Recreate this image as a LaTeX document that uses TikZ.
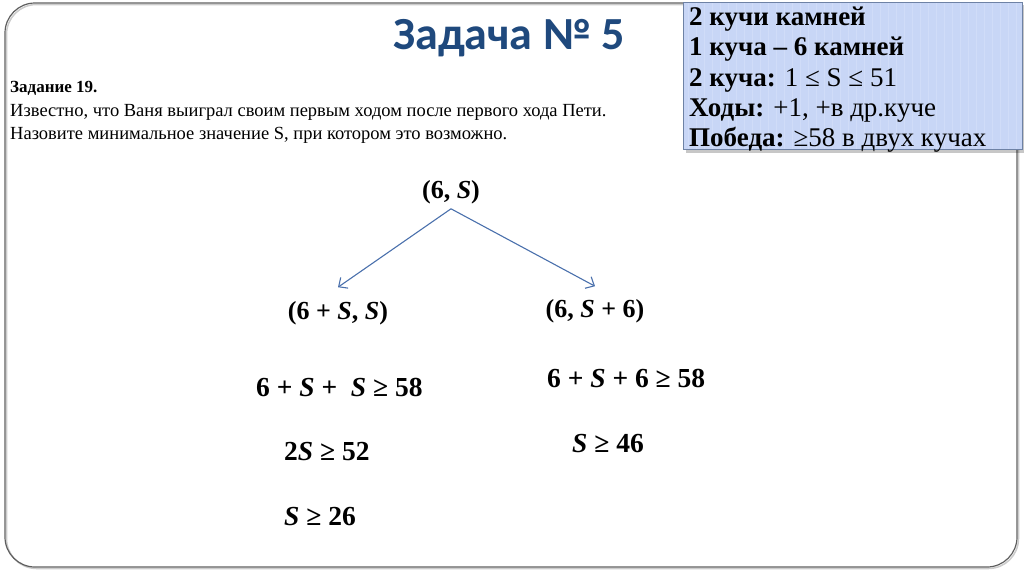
\documentclass[tikz,border=0pt]{standalone}
\usepackage{fontspec}
\setmainfont{Liberation Serif}
\newfontfamily\titlefont{Carlito}
\usetikzlibrary{arrows.meta}
\definecolor{titleblue}{RGB}{31,73,125}
\definecolor{boxblue}{RGB}{200,214,246}
\definecolor{boxstripe}{RGB}{208,220,248}
\definecolor{boxedge}{RGB}{110,130,165}
\definecolor{framegray}{RGB}{95,95,95}
\definecolor{arrowblue}{RGB}{74,112,172}
\begin{document}
\begin{tikzpicture}[x=1pt,y=-1pt,
  txt/.style={inner sep=0pt, anchor=base west},
  tasktext/.style={txt, font=\fontsize{18.5}{22}\selectfont},
  boxtext/.style={txt, font=\fontsize{27}{30}\selectfont},
  eqtext/.style={txt, font=\fontsize{27.5}{30}\selectfont\bfseries},
  treenode/.style={inner sep=0pt, font=\fontsize{26}{30}\selectfont\bfseries},
  arr/.style={draw=arrowblue, line width=1.1pt, -{Straight Barb[length=7pt,width=13pt,line width=1.1pt]}}]
\useasboundingbox (0,0) rectangle (1024,574);
% frame
\draw[gray!40, line width=1.5pt, rounded corners=30pt] (6.5,4.5) rectangle (1018.5,568.5);
\draw[framegray, line width=1.2pt, rounded corners=30pt] (5,3) rectangle (1017,567);
% title
\node[inner sep=0pt, anchor=base, text=titleblue, font=\titlefont\fontsize{46}{50}\selectfont\bfseries] (title) at (509,49) {Задача № 5};
% task text
\node[txt, font=\fontsize{17}{20}\selectfont\bfseries] (t1) at (10,92) {Задание 19.};
\node[tasktext] (t2) at (10,116) {Известно, что Ваня выиграл своим первым ходом после первого хода Пети.};
\node[tasktext] (t3) at (10,139) {Назовите минимальное значение S, при котором это возможно.};
% info box
\fill[black, opacity=0.22] (686,5) rectangle (1025,153);
\fill[boxblue] (683,2) rectangle (1022,149);
\foreach \i in {0,...,41} {\draw[boxstripe, line width=1pt] (688+8*\i,2) -- (688+8*\i,149);}
\draw[boxedge, line width=1pt] (683,2) rectangle (1022,149);
\node[boxtext] (b1) at (689,25) {\bfseries 2 кучи камней};
\node[boxtext] (b2) at (689,55) {\bfseries 1 куча – 6 камней};
\node[boxtext] (b3) at (689,86) {\textbf{2 куча:} 1 ≤ S ≤ 51};
\node[boxtext] (b4) at (689,116) {\textbf{Ходы:} +1, +в др.куче};
\node[boxtext] (b5) at (689,146) {\textbf{Победа:} ≥58 в двух кучах};
% tree
\node[treenode, outer sep=5pt] (top) at (451,192) {(6, \textit{S})};
\node[treenode, outer sep=14pt] (left) at (338,313) {(6 + \textit{S}, \textit{S})};
\node[treenode, outer sep=13pt] (right) at (595,311) {(6, \textit{S} + 6)};
\draw[arr] (top.south) -- (left.north);
\draw[arr] (top.south) -- (right.north);
% equations
\node[eqtext] (e1) at (256,396) {6 + \textit{S} +\ \ \textit{S} ≥ 58};
\node[eqtext] (e2) at (284,460) {2\textit{S} ≥ 52};
\node[eqtext] (e3) at (284,525) {\textit{S} ≥ 26};
\node[eqtext] (e4) at (547,387) {6 + \textit{S} + 6 ≥ 58};
\node[eqtext] (e5) at (572,452) {\textit{S} ≥ 46};
\end{tikzpicture}
\end{document}
